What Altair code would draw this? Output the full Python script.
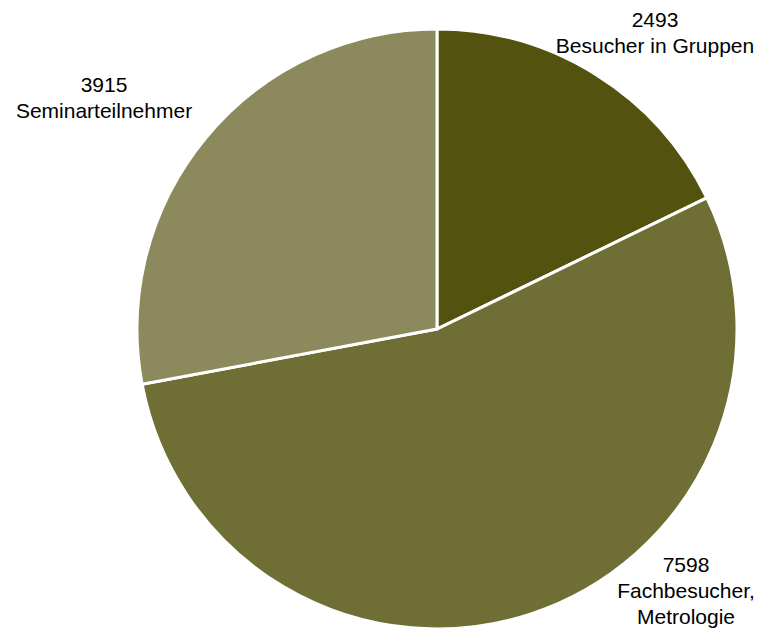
import altair as alt
import pandas as pd

categories = ["Besucher in Gruppen", "Fachbesucher, Metrologie", "Seminarteilnehmer"]
values = [2493, 7598, 3915]
colors = ["#54520f", "#6f6e34", "#8c8a5c"]
label_lines = [["2493", "Besucher in Gruppen"], ["7598", "Fachbesucher,", "Metrologie"], ["3915", "Seminarteilnehmer"]]

df = pd.DataFrame({"cat": categories, "value": values, "order": [0, 1, 2]})

cx, cy, r = 429, 321, 300

pie = alt.Chart(df).mark_arc(stroke="white", strokeWidth=3, radius=r).encode(
    theta=alt.Theta("value:Q", stack=True),
    order=alt.Order("order:Q"),
    color=alt.Color("cat:N", scale=alt.Scale(domain=categories, range=colors), legend=None),
    x=alt.value(cx), y=alt.value(cy),
)

label_pos = [(647, 2, 26), (678, 547, 26), (96, 67, 26)]
texts = []
for lines, (lx, ly, lh) in zip(label_lines, label_pos):
    t = alt.Chart(pd.DataFrame({"t": [lines]})).mark_text(
        font="Liberation Sans", fontSize=21, align="center", baseline="top", lineHeight=lh, color="black"
    ).encode(text="t", x=alt.value(lx), y=alt.value(ly))
    texts.append(t)

chart = alt.layer(pie, *texts).properties(
    width=747, height=621, padding=0, autosize=alt.AutoSizeParams(type="none")
).configure_view(stroke=None)

chart.save("out.html", embed_options={"renderer": "svg", "actions": False})
